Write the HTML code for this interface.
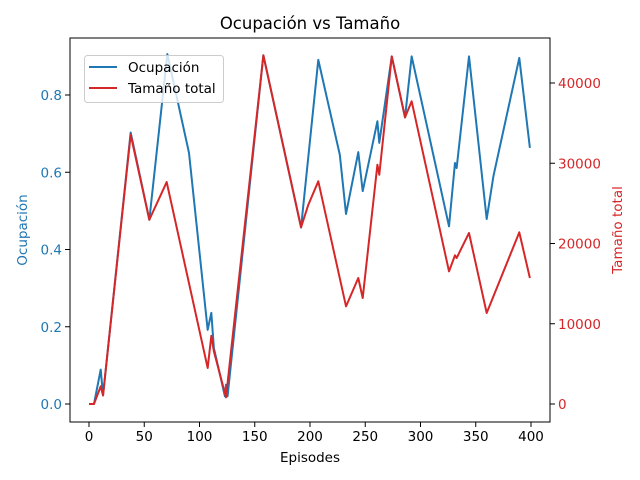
<!DOCTYPE html>
<html><head><meta charset="utf-8"><style>
body{margin:0;background:#fff;}
svg{display:block;font-family:"DejaVu Sans","Liberation Sans",sans-serif;}
</style></head><body>
<svg id="chart" width="640" height="480" viewBox="0 0 640 480" xmlns="http://www.w3.org/2000/svg">
<rect width="640" height="480" fill="#fff"/>
<text x="310" y="29" text-anchor="middle" font-size="16.5" fill="#000">Ocupación vs Tamaño</text>
<g id="marks"></g>
<g id="axes"></g>
<text x="310" y="462" text-anchor="middle" font-size="13.5">Episodes</text>
<text transform="translate(27,230) rotate(-90)" text-anchor="middle" font-size="13.5" fill="#1f77b4">Ocupación</text>
<text transform="translate(622,230) rotate(-90)" text-anchor="middle" font-size="13.5" fill="#d62728">Tamaño total</text>
<g>
<rect x="84.5" y="55.5" width="139" height="47" rx="3" fill="#fff" fill-opacity="0.8" stroke="#ccc"/>
<line x1="89" y1="67" x2="117" y2="67" stroke="#1f77b4" stroke-width="2"/>
<text x="128" y="72" font-size="13.5">Ocupación</text>
<line x1="89" y1="88" x2="117" y2="88" stroke="#d62728" stroke-width="2"/>
<text x="128" y="93" font-size="13.5">Tamaño total</text>
</g>
</svg>
<script>
const occEpisodes=[0,4.5,10.6,12.7,37.7,54.6,70.9,90.5,107.4,110.7,113,123,124,125.4,157.8,191.9,207.5,227,232.6,243.7,247.7,261,262.7,274,286,292,311.6,325.8,331.2,332.7,343.9,359.9,366,389.4,399];
const occValues=[0,0,0.089,0.022,0.703,0.477,0.906,0.65,0.192,0.236,0.145,0.02,0.05,0.02,0.903,0.457,0.891,0.645,0.492,0.652,0.551,0.732,0.676,0.9,0.742,0.9,0.645,0.46,0.624,0.611,0.9,0.479,0.59,0.896,0.663];
const sizeEpisodes=[0,4.5,10.6,12.7,37.7,54.6,70.3,107.4,110.7,113,124,157.8,191.9,198.5,207.5,232.6,243.7,247.7,261,262.7,274,286,292,325.8,331.2,332.7,343.9,359.9,389.4,399];
const sizeValues=[0,0,2200,1080,33560,22960,27660,4490,8510,6570,830,43450,22020,24830,27750,12170,15700,13210,29820,28570,43320,35720,37720,16530,18530,18190,21310,11340,21390,15700];
const xTicks=[0,50,100,150,200,250,300,350,400];
const leftTicks=[0.0,0.2,0.4,0.6,0.8];
const rightTicks=[0,10000,20000,30000,40000];

const NS="http://www.w3.org/2000/svg";
const L=70,R=550,T=38,B=422;
const xs=v=>89+v*(531-89)/400;
const yl=v=>404-v*386.25;
const yr=v=>404-v*321/40000;
function mk(tag,attrs,parent){const e=document.createElementNS(NS,tag);for(const k in attrs)e.setAttribute(k,attrs[k]);parent.appendChild(e);return e;}
const marks=document.getElementById('marks'),axes=document.getElementById('axes');

const p1=mk('polyline',{points:occEpisodes.map((e,i)=>xs(e)+','+yl(occValues[i])).join(' '),fill:'none',stroke:'#1f77b4','stroke-width':2,'stroke-linejoin':'round'},marks);


const p2=mk('polyline',{points:sizeEpisodes.map((e,i)=>xs(e)+','+yr(sizeValues[i])).join(' '),fill:'none',stroke:'#d62728','stroke-width':2,'stroke-linejoin':'round'},marks);



const frame=mk('rect',{x:L,y:T,width:R-L,height:B-T,fill:'none',stroke:'#000','stroke-width':1},axes);



xTicks.forEach(v=>{const x=xs(v);
 const t=mk('line',{x1:x,y1:B,x2:x,y2:B+5,stroke:'#000'},axes);
 
 
 const s=mk('text',{x:x,y:B+19,'text-anchor':'middle','font-size':13.5},axes);s.textContent=v;
 
 
});
leftTicks.forEach(v=>{const y=yl(v);
 const t=mk('line',{x1:L-5,y1:y,x2:L,y2:y,stroke:'#000'},axes);
 
 
 const s=mk('text',{x:L-8,y:y+5,'text-anchor':'end','font-size':13.5,fill:'#1f77b4'},axes);s.textContent=v.toFixed(1);
 
 
});
rightTicks.forEach(v=>{const y=yr(v);
 const t=mk('line',{x1:R,y1:y,x2:R+5,y2:y,stroke:'#000'},axes);
 
 
 const s=mk('text',{x:R+8,y:y+5,'text-anchor':'start','font-size':13.5,fill:'#d62728'},axes);s.textContent=v;
 
 
});
</script>
</body></html>
